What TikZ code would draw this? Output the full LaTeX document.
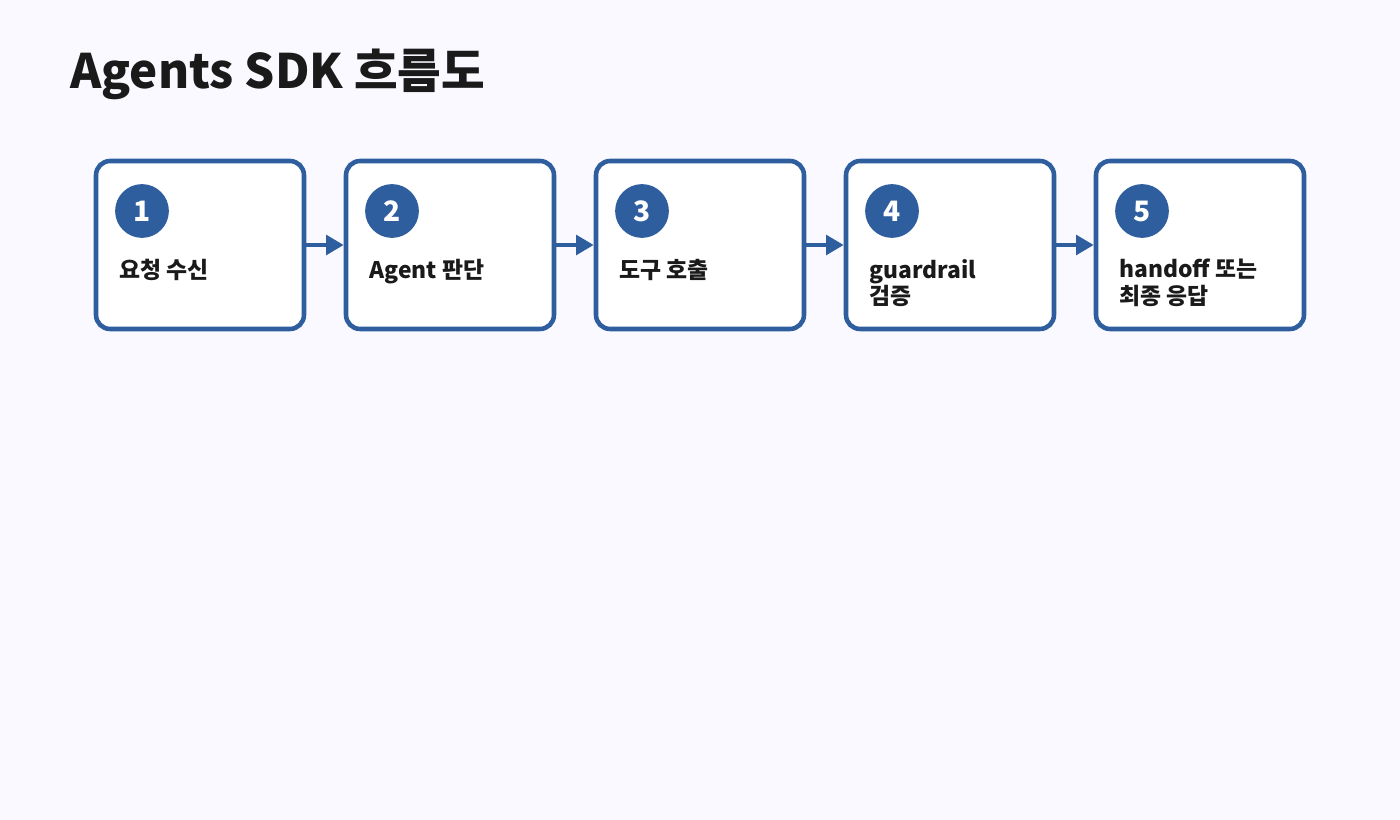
\documentclass[tikz,border=0pt]{standalone}
\usepackage{fontspec}
\setmainfont{Noto Sans CJK KR}
\usetikzlibrary{arrows.meta}
\definecolor{stepblue}{HTML}{2E5E9E}
\definecolor{inkdark}{HTML}{1A1A1A}
\definecolor{pagebg}{HTML}{F9F9FF}
\tikzset{
  stepbox/.style={draw=stepblue,line width=2.6pt,fill=white,rounded corners=8pt,minimum width=4.16cm,minimum height=3.36cm,inner sep=0pt},
  badge/.style={circle,fill=stepblue,minimum size=30.6pt,inner sep=0pt,text=white,font=\fontsize{16}{16}\selectfont\bfseries},
  steptext/.style={anchor=north west,align=left,text=inkdark,font=\fontsize{13}{15}\selectfont\bfseries,inner sep=0pt},
  flow/.style={stepblue,line width=2.4pt,-{Triangle[length=10pt,width=11pt]}}
}
\begin{document}
\begin{tikzpicture}[x=0.02cm,y=-0.02cm]
  % Background
  \fill[pagebg] (0,0) rectangle (1400,820);
  \useasboundingbox (0,0) rectangle (1400,820);

  % Title
  \node[anchor=west,inner sep=0pt,text=inkdark,font=\fontsize{27}{27}\selectfont\bfseries] (title) at (70,74) {Agents SDK 흐름도};

  % Steps
  \foreach \i/\txt in {1/요청 수신,2/Agent 판단,3/도구 호출,4/{guardrail\\검증},5/{handoff 또는\\최종 응답}}{
    \pgfmathsetmacro{\bx}{96+250*(\i-1)}
    \node[stepbox] (box\i) at (\bx+104,245) {};
    \node[badge] (num\i) at (\bx+46,211) {\i};
    \node[steptext] (lbl\i) at (\bx+23,259) {\txt};
  }

  % Connectors
  \foreach \i in {1,...,4}{
    \pgfmathtruncatemacro{\j}{\i+1}
    \draw[flow] (box\i.east) -- (box\j.west);
  }
\end{tikzpicture}
\end{document}
